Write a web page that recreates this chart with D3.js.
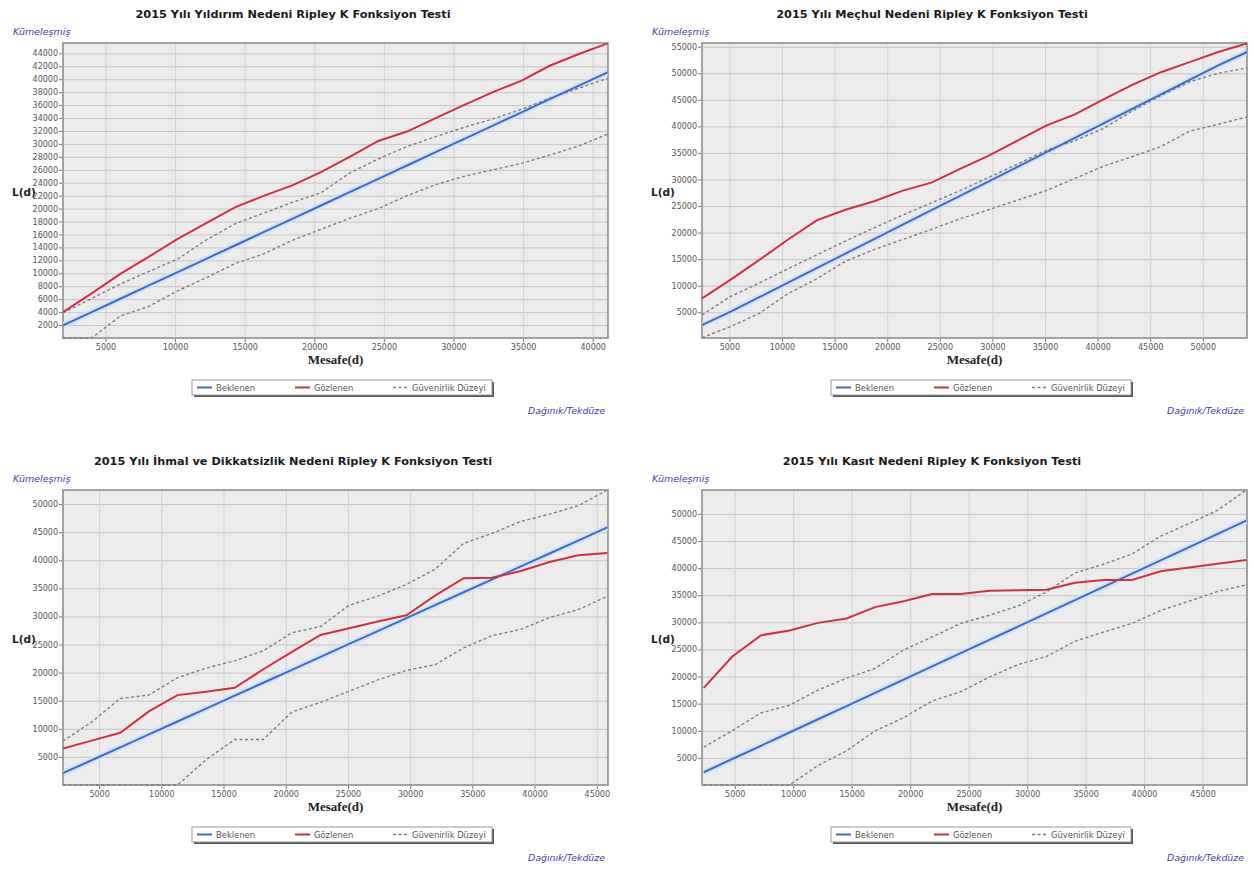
<!DOCTYPE html>
<html><head><meta charset="utf-8">
<script src="https://cdn.jsdelivr.net/npm/d3@7/dist/d3.min.js"></script>
<style>body{margin:0;background:#fff}svg{display:block}</style>
</head><body><svg id="c" width="1253" height="870"></svg>
<script>
// ---------- text ----------
const titles = [
  "2015 Yılı Yıldırım Nedeni Ripley K Fonksiyon Testi",
  "2015 Yılı Meçhul Nedeni Ripley K Fonksiyon Testi",
  "2015 Yılı İhmal ve Dikkatsizlik Nedeni Ripley K Fonksiyon Testi",
  "2015 Yılı Kasıt Nedeni Ripley K Fonksiyon Testi"
];
const legendLabels = ["Beklenen", "Gözlenen", "Güvenirlik Düzeyi"];
const yLabel = "L(d)";
const xLabel = "Mesafe(d)";
const topNote = "Kümeleşmiş";
const bottomNote = "Dağınık/Tekdüze";

// ---------- panel 1 : Yıldırım ----------
const p1Dist     = [1950,4010,6070,8130,10190,12240,14300,16360,18420,20480,22540,24600,26660,28720,30780,32830,34890,36950,39010,41070];
const p1Expected = [1950,4010,6070,8130,10190,12240,14300,16360,18420,20480,22540,24600,26660,28720,30780,32830,34890,36950,39010,41070];
const p1Observed = [4000,6900,9900,12590,15330,17760,20200,21970,23590,25650,28000,30460,31910,33980,36040,38000,39780,42120,43900,45540];
const p1Upper    = [3900,6110,8350,10300,12200,15150,17650,19300,20960,22450,25500,27670,29600,31120,32580,33860,35350,37070,38620,40140];
const p1Lower    = [0,0,3400,4900,7300,9300,11500,13000,15100,16800,18500,20000,22000,23700,25000,26000,27000,28300,29700,31500];
const p1XTicks = [5000,10000,15000,20000,25000,30000,35000,40000];
const p1YTicks = [2000,4000,6000,8000,10000,12000,14000,16000,18000,20000,22000,24000,26000,28000,30000,32000,34000,36000,38000,40000,42000,44000];
const p1XDomain = [1950, 41100];
const p1YDomain = [0, 45600];

// ---------- panel 2 : Meçhul ----------
const p2Dist     = [2400,5130,7850,10580,13300,16030,18760,21480,24210,26930,29660,32390,35110,37840,40560,43290,46020,48740,51470,54200];
const p2Expected = [2600,5130,7850,10580,13300,16030,18760,21480,24210,26930,29660,32390,35110,37840,40560,43290,46020,48740,51470,54000];
const p2Observed = [7600,11150,14850,18700,22300,24300,25900,27900,29400,32000,34500,37300,40150,42250,45100,47800,50200,52100,54000,55600];
const p2Upper    = [4500,8000,10500,13200,15800,18400,20900,23300,25600,27900,30400,32900,35450,37300,39600,42900,45800,48400,50000,51000];
const p2Lower    = [200,2300,4800,8500,11300,14600,16800,18700,20600,22600,24300,26100,27900,30200,32500,34300,36200,39100,40400,41800];
const p2XTicks = [5000,10000,15000,20000,25000,30000,35000,40000,45000,50000];
const p2YTicks = [5000,10000,15000,20000,25000,30000,35000,40000,45000,50000,55000];
const p2XDomain = [2400, 54200];
const p2YDomain = [150, 55700];

// ---------- panel 3 : İhmal ve Dikkatsizlik ----------
const p3Dist     = [2100,4400,6700,9000,11300,13600,15900,18200,20500,22800,25100,27400,29700,32000,34300,36600,38900,41200,43500,45850];
const p3Expected = [2100,4400,6700,9000,11300,13600,15900,18200,20500,22800,25100,27400,29700,32000,34300,36600,38900,41200,43500,45850];
const p3Observed = [6500,7900,9300,13100,16000,16600,17300,20600,23700,26700,27900,29100,30200,33700,36800,36900,38100,39700,40900,41300];
const p3Upper    = [7800,11200,15400,16000,19100,20800,22100,23900,27100,28200,32000,33600,35700,38400,43000,44800,46900,48200,49700,52500];
const p3Lower    = [0,0,0,0,0,4500,8100,8100,13000,14700,16700,18700,20400,21400,24400,26600,27700,29800,31200,33600];
const p3XTicks = [5000,10000,15000,20000,25000,30000,35000,40000,45000];
const p3YTicks = [5000,10000,15000,20000,25000,30000,35000,40000,45000,50000];
const p3XDomain = [2100, 45900];
const p3YDomain = [0, 52500];

// ---------- panel 4 : Kasıt ----------
const p4Dist     = [2350,4790,7230,9680,12120,14560,17000,19440,21880,24320,26770,29210,31650,34090,36530,38970,41420,43860,46300,48740];
const p4Expected = [2350,4790,7230,9680,12120,14560,17000,19440,21880,24320,26770,29210,31650,34090,36530,38970,41420,43860,46300,48740];
const p4Observed = [17900,23700,27600,28500,29900,30700,32800,33900,35200,35200,35800,35900,36000,37300,37800,37800,39400,40100,40800,41500];
const p4Upper    = [7000,10000,13300,14700,17500,19700,21500,24900,27300,29800,31300,33000,35600,39100,40700,42600,45900,48200,50700,54400];
const p4Lower    = [0,0,0,0,3600,6300,10000,12400,15500,17200,19900,22200,23700,26500,28200,29800,32200,33900,35700,36900];
const p4XTicks = [5000,10000,15000,20000,25000,30000,35000,40000,45000];
const p4YTicks = [5000,10000,15000,20000,25000,30000,35000,40000,45000,50000];
const p4XDomain = [2200, 48800];
const p4YDomain = [0, 54400];

// ---------- assemble ----------
const panels = [
  {title: titles[0], dist: p1Dist, exp: p1Expected, obs: p1Observed, up: p1Upper, lo: p1Lower, xt: p1XTicks, yt: p1YTicks, xd: p1XDomain, yd: p1YDomain, ox: 0,   oy: 0},
  {title: titles[1], dist: p2Dist, exp: p2Expected, obs: p2Observed, up: p2Upper, lo: p2Lower, xt: p2XTicks, yt: p2YTicks, xd: p2XDomain, yd: p2YDomain, ox: 639, oy: 0},
  {title: titles[2], dist: p3Dist, exp: p3Expected, obs: p3Observed, up: p3Upper, lo: p3Lower, xt: p3XTicks, yt: p3YTicks, xd: p3XDomain, yd: p3YDomain, ox: 0,   oy: 447},
  {title: titles[3], dist: p4Dist, exp: p4Expected, obs: p4Observed, up: p4Upper, lo: p4Lower, xt: p4XTicks, yt: p4YTicks, xd: p4XDomain, yd: p4YDomain, ox: 639, oy: 447}
];

const C = {blue: "#3b6cc6", halo: "#cfe1f6", red: "#d0303f", gray: "#7e7e7e",
           bg: "#ececec", grid: "#c6c6c6", frame: "#9a9a9a", tick: "#555", note: "#4141a6"};
const PL = 63, PR = 608, PT = 43, PB = 338;
const SANS = "'DejaVu Sans', Verdana, sans-serif";

const svg = d3.select("#c");

panels.forEach((p, i) => {
  const g = svg.append("g").attr("transform", `translate(${p.ox},${p.oy})`);
  const x = d3.scaleLinear().domain(p.xd).range([PL, PR]);
  const y = d3.scaleLinear().domain(p.yd).range([PB, PT]);

  // title & notes
  g.append("text").attr("x", 293).attr("y", 18).attr("text-anchor", "middle")
    .style("font", `bold 11.3px ${SANS}`).attr("fill", "#1a1a1a").text(p.title);
  g.append("text").attr("x", 13).attr("y", 35)
    .style("font", `oblique 9.5px ${SANS}`).attr("fill", C.note).text(topNote);
  g.append("text").attr("x", 605).attr("y", 414).attr("text-anchor", "end")
    .style("font", `oblique 9.4px ${SANS}`).attr("fill", C.note).text(bottomNote);

  // plot background
  g.append("rect").attr("x", PL).attr("y", PT).attr("width", PR - PL).attr("height", PB - PT).attr("fill", C.bg);

  // grid
  g.append("g").attr("transform", `translate(${PL},0)`)
    .call(d3.axisLeft(y).tickValues(p.yt).tickSize(-(PR - PL)).tickFormat(""))
    .call(s => s.select(".domain").remove())
    .call(s => s.selectAll("line").attr("stroke", C.grid).attr("stroke-width", 1));
  g.append("g").attr("transform", `translate(0,${PB})`)
    .call(d3.axisBottom(x).tickValues(p.xt).tickSize(-(PB - PT)).tickFormat(""))
    .call(s => s.select(".domain").remove())
    .call(s => s.selectAll("line").attr("stroke", "#d2d2d2").attr("stroke-width", 1));

  // axes
  const fmt = d3.format("d");
  g.append("g").attr("transform", `translate(${PL - 1},0)`)
    .call(d3.axisLeft(y).tickValues(p.yt).tickSize(3).tickPadding(1).tickFormat(fmt))
    .call(s => s.select(".domain").remove())
    .call(s => s.selectAll("line").attr("stroke", "#777"))
    .call(s => s.selectAll("text").attr("fill", C.tick).style("font", `8px ${SANS}`));
  g.append("g").attr("transform", `translate(0,${PB + 1})`)
    .call(d3.axisBottom(x).tickValues(p.xt).tickSize(3).tickPadding(2).tickFormat(fmt))
    .call(s => s.select(".domain").remove())
    .call(s => s.selectAll("line").attr("stroke", "#777"))
    .call(s => s.selectAll("text").attr("fill", C.tick).style("font", `8px ${SANS}`));

  // frame (drawn before the lines so the zero-level envelope stays visible)
  g.append("rect").attr("x", PL).attr("y", PT).attr("width", PR - PL).attr("height", PB - PT)
    .attr("fill", "none").attr("stroke", C.frame).attr("stroke-width", 1.8);

  // clip
  const cid = "clip" + i;
  g.append("clipPath").attr("id", cid).append("rect")
    .attr("x", PL).attr("y", PT - 1).attr("width", PR - PL).attr("height", PB - PT + 2);
  const lg = g.append("g").attr("clip-path", `url(#${cid})`);
  const line = d3.line().x(d => x(d[0])).y(d => y(d[1]));

  lg.append("path").datum(d3.zip(p.dist, p.exp)).attr("d", line)
    .attr("fill", "none").attr("stroke", C.halo).attr("stroke-width", 6).attr("opacity", 0.8);
  [p.up, p.lo].forEach(arr => {
    lg.append("path").datum(d3.zip(p.dist, arr)).attr("d", line)
      .attr("fill", "none").attr("stroke", C.gray).attr("stroke-width", 1.4)
      .attr("stroke-dasharray", "3,2.5");
  });
  lg.append("path").datum(d3.zip(p.dist, p.exp)).attr("d", line)
    .attr("fill", "none").attr("stroke", C.blue).attr("stroke-width", 2);
  lg.append("path").datum(d3.zip(p.dist, p.obs)).attr("d", line)
    .attr("fill", "none").attr("stroke", C.red).attr("stroke-width", 2);

  // axis titles
  g.append("text").attr("x", 12).attr("y", (PT + PB) / 2 + 5)
    .style("font", `bold 10.5px ${SANS}`).attr("fill", "#222").text(yLabel);
  g.append("text").attr("x", (PL + PR) / 2).attr("y", 364).attr("text-anchor", "middle")
    .style("font", "bold 13px 'Liberation Serif', 'DejaVu Serif', serif").attr("fill", "#222").text(xLabel);

  // legend
  const L = g.append("g").attr("transform", "translate(192,380)");
  L.append("rect").attr("x", 2).attr("y", 2).attr("width", 300).attr("height", 15).attr("fill", "#555");
  L.append("rect").attr("x", 0).attr("y", 0).attr("width", 300).attr("height", 15)
    .attr("fill", "#fff").attr("stroke", "#9a9a9a").attr("stroke-width", 1);
  const items = [
    {lab: legendLabels[0], col: C.blue, dash: null, x: 5},
    {lab: legendLabels[1], col: C.red,  dash: null, x: 103},
    {lab: legendLabels[2], col: C.gray, dash: "3,2.5", x: 201}
  ];
  items.forEach(it => {
    L.append("line").attr("x1", it.x).attr("x2", it.x + 15).attr("y1", 7.5).attr("y2", 7.5)
      .attr("stroke", it.col).attr("stroke-width", it.dash ? 1.4 : 2)
      .attr("stroke-dasharray", it.dash);
    L.append("text").attr("x", it.x + 19).attr("y", 10.5)
      .style("font", `8.4px ${SANS}`).attr("fill", "#555").text(it.lab);
  });
});
</script>
</body></html>
